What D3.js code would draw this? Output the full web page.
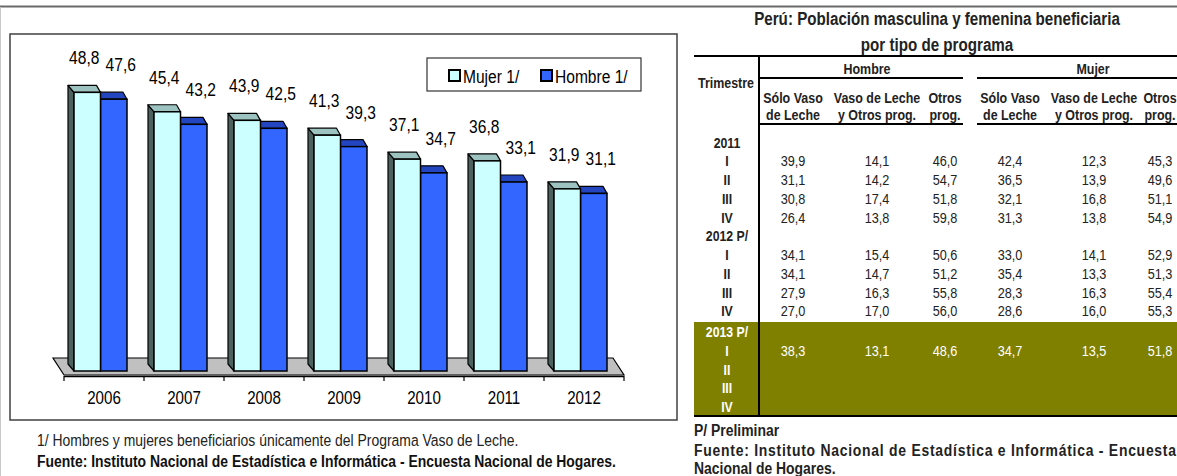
<!DOCTYPE html>
<html><head><meta charset="utf-8">
<script src="https://cdn.jsdelivr.net/npm/d3@7/dist/d3.min.js"></script>
<style>body{margin:0;background:#fff}svg{display:block}</style>
</head><body>
<svg id="c" width="1177" height="476"></svg>
<script>
// ---- chart data ----
const years = ['2006','2007','2008','2009','2010','2011','2012'];
const series = ['Mujer 1/','Hombre 1/'];
const mujer = [48.8,45.4,43.9,41.3,37.1,36.8,31.9];
const hombre = [47.6,43.2,42.5,39.3,34.7,33.1,31.1];

// ---- table data ----
const tableTitle = ['Perú: Población masculina y femenina beneficiaria','por tipo de programa'];
const rowLabels = ['2011','I','II','III','IV','2012 P/','I','II','III','IV','2013 P/','I','II','III','IV'];
const hSolo  = [null,39.9,31.1,30.8,26.4,null,34.1,34.1,27.9,27.0,null,38.3,null,null,null];
const hVaso  = [null,14.1,14.2,17.4,13.8,null,15.4,14.7,16.3,17.0,null,13.1,null,null,null];
const hOtros = [null,46.0,54.7,51.8,59.8,null,50.6,51.2,55.8,56.0,null,48.6,null,null,null];
const mSolo  = [null,42.4,36.5,32.1,31.3,null,33.0,35.4,28.3,28.6,null,34.7,null,null,null];
const mVaso  = [null,12.3,13.9,16.8,13.8,null,14.1,13.3,16.3,16.0,null,13.5,null,null,null];
const mOtros = [null,45.3,49.6,51.1,54.9,null,52.9,51.3,55.4,55.3,null,51.8,null,null,null];

const F = "'Liberation Sans','Arimo',sans-serif";
const SX = 0.82; // narrow face emulation
const fmt = v => d3.format('.1f')(v).replace('.', ',');
const svg = d3.select('#c');

function txt(parent, x, y, str, o={}){
  const t = parent.append('text')
    .attr('transform', `translate(${x},${y}) scale(${o.sx||SX},1)`)
    .attr('text-anchor', o.anchor||'start')
    .attr('font-family', F)
    .attr('font-size', o.size||15)
    .attr('font-weight', o.weight||'normal')
    .attr('fill', o.fill||'#000')
    .text(str);
  if(o.len) t.attr('textLength', o.len/(o.sx||SX)).attr('lengthAdjust','spacing');
  return t;
}

// top rule and left edge
svg.append('line').attr('x1',0).attr('x2',1177).attr('y1',6.5).attr('y2',6.5).attr('stroke','#6a6a6a').attr('stroke-width',2);
svg.append('line').attr('x1',0.5).attr('x2',0.5).attr('y1',7).attr('y2',476).attr('stroke','#c8c8c8').attr('stroke-width',1);

// chart frame
svg.append('rect').attr('x',10).attr('y',34).attr('width',667).attr('height',386)
  .attr('fill','#fff').attr('stroke','#404040').attr('stroke-width',1.5);

const x0 = d3.scaleBand().domain(years).range([64,624]).padding(0);
const x1 = d3.scaleBand().domain(series).range([10,63]).padding(0);
const y = d3.scaleLinear().domain([0,50]).range([371,85.5]);

// floor
const fl = x0.range()[0], fr = x0.range()[1], ff = 375, fb = 358, fd = 11;
svg.append('path').attr('d',`M${fl},${ff}L${fl-fd},${fb}L${fr-fd},${fb}L${fr},${ff}Z`)
  .attr('fill','#c0c0c0').attr('stroke','#000').attr('stroke-width',1.2);
svg.append('line').attr('x1',fl).attr('x2',fr).attr('y1',376.5).attr('y2',376.5).attr('stroke','#000').attr('stroke-width',1.5);
const tickPos = years.map(d=>x0(d)).concat([fr]);
svg.selectAll('.tk').data(tickPos).enter().append('line')
  .attr('x1',d=>d).attr('x2',d=>d)
  .attr('y1',376).attr('y2',381).attr('stroke','#000').attr('stroke-width',1.2);
years.forEach(d=> txt(svg, x0(d)+x0.bandwidth()/2, 404, d, {size:18.5, anchor:'middle'}));

// bars
const colors = {
  'Mujer 1/': {front:'#ccffff', top:'#9dc3c1', side:'#4c625f'},
  'Hombre 1/': {front:'#3366ff', top:'#2346c0', side:'#1a2f80'}
};
const dxL = 6, dxR = 4, dy = 7;
function drawBar(g, x, w, v, c){
  const yt = y(v), yb = y(0);
  g.append('path').attr('d',`M${x},${yt}L${x-dxL},${yt-dy}L${x-dxL},${yb-dy}L${x},${yb}Z`)
    .attr('fill',c.side).attr('stroke','#000').attr('stroke-width',1.2).attr('stroke-linejoin','round');
  g.append('path').attr('d',`M${x},${yt}L${x-dxL},${yt-dy}L${x+w-dxR},${yt-dy}L${x+w},${yt}Z`)
    .attr('fill',c.top).attr('stroke','#000').attr('stroke-width',1.2).attr('stroke-linejoin','round');
  g.append('rect').attr('x',x).attr('y',yt).attr('width',w).attr('height',yb-yt)
    .attr('fill',c.front).attr('stroke','#000').attr('stroke-width',1.5);
}
years.forEach((yr,i)=>{
  const g = svg.append('g');
  drawBar(g, x0(yr)+x1('Hombre 1/'), x1.bandwidth(), hombre[i], colors['Hombre 1/']);
  drawBar(g, x0(yr)+x1('Mujer 1/'), x1.bandwidth(), mujer[i], colors['Mujer 1/']);
});
// value labels
years.forEach((yr,i)=>{
  txt(svg, x0(yr)+x1('Mujer 1/')+x1.bandwidth()/2-3, y(mujer[i])-28, fmt(mujer[i]), {size:19, anchor:'middle'});
  txt(svg, x0(yr)+x1('Hombre 1/')+x1.bandwidth()/2+7, y(hombre[i])-28, fmt(hombre[i]), {size:19, anchor:'middle'});
});

// legend
svg.append('rect').attr('x',427).attr('y',58).attr('width',214).attr('height',33)
  .attr('fill','#fff').attr('stroke','#333').attr('stroke-width',1.2);
const legX = [449, 541];
series.forEach((s,i)=>{
  svg.append('rect').attr('x',legX[i]).attr('y',70).attr('width',11).attr('height',11)
    .attr('fill',colors[s].front).attr('stroke','#000').attr('stroke-width',2);
  txt(svg, legX[i]+14, 82.5, s, {size:19});
});

// footnotes
txt(svg, 37, 446, '1/  Hombres y mujeres beneficiarios  únicamente  del Programa Vaso de Leche.', {size:17, fill:'#222'});
txt(svg, 37, 467, 'Fuente: Instituto Nacional de Estadística e Informática - Encuesta Nacional de Hogares.', {size:17, weight:'bold', fill:'#111'});

// ---- table ----
const T = svg.append('g');
tableTitle.forEach((t,i)=> txt(T, 937, i?51:25, t, {size:18.5, weight:'bold', anchor:'middle', fill:'#222'}));
T.append('rect').attr('x',694).attr('y',322).attr('width',483).attr('height',93).attr('fill','#808000');

function hl(a,b,yy,w){T.append('line').attr('x1',a).attr('x2',b).attr('y1',yy).attr('y2',yy).attr('stroke','#000').attr('stroke-width',w);}
hl(694,1177,56,2);
hl(759,963,78,2); hl(977,1177,78,2);
hl(759,963,124,2); hl(977,1177,124,2);
hl(694,1177,416,2);
T.append('line').attr('x1',759).attr('x2',759).attr('y1',56).attr('y2',416).attr('stroke','#000').attr('stroke-width',2);

const th = (x,yy,t)=> txt(T, x, yy, t, {size:15.2, weight:'bold', anchor:'middle', fill:'#222'});
th(726,88,'Trimestre');
th(867,74,'Hombre'); th(1093,74,'Mujer');
const colX = [793,877,945,1010,1094,1160];
const sub1 = ['Sólo Vaso','Vaso de Leche','Otros','Sólo Vaso','Vaso de Leche','Otros'];
const sub2 = ['de Leche','y Otros prog.','prog.','de Leche','y Otros prog.','prog.'];
colX.forEach((x,i)=>{ th(x,103,sub1[i]); th(x,120,sub2[i]); });

const rowYs = rowLabels.map((d,i)=> i<10 ? 142 + i*18.75 : 144 + i*18.75);
rowLabels.forEach((d,i)=> txt(T, 727, rowYs[i]+5.5, d, {size:15, weight:'bold', anchor:'middle', fill: i>=10?'#fff':'#222'}));
const cols = [hSolo,hVaso,hOtros,mSolo,mVaso,mOtros];
cols.forEach((arr,c)=>{
  arr.forEach((v,i)=>{
    if(v==null) return;
    txt(T, colX[c], rowYs[i]+5.5, fmt(v), {size:15.5, anchor:'middle', fill: i>=10?'#fff':'#222'});
  });
});
// table notes
txt(T, 694, 436, 'P/ Preliminar', {size:17, weight:'bold', fill:'#222'});
txt(T, 694, 456, 'Fuente: Instituto Nacional de Estadística e Informática - Encuesta', {size:17, weight:'bold', fill:'#222', len:482});
txt(T, 694, 474, 'Nacional de Hogares.', {size:17, weight:'bold', fill:'#222'});
</script>
</body></html>
